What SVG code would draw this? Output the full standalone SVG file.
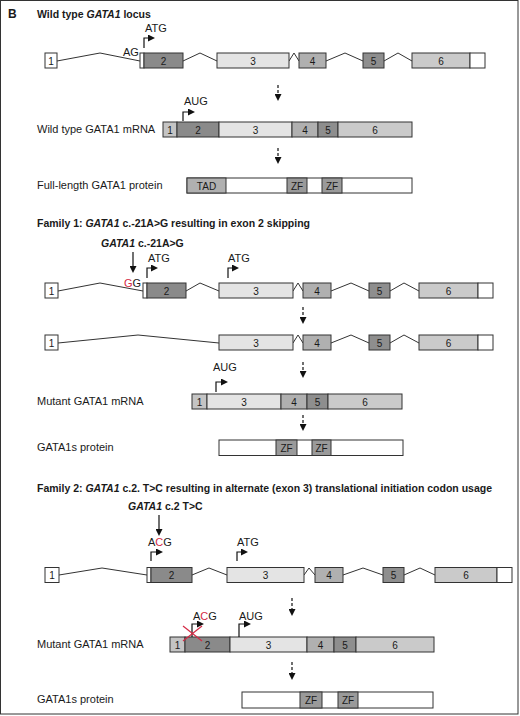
<svg xmlns="http://www.w3.org/2000/svg" width="520" height="716" viewBox="0 0 520 716">
<style>
text { font-family: "Liberation Sans", Arial, sans-serif; font-size: 11px; fill: #1a1a1a; }
.b { font-weight: bold; font-size: 10.5px; }
.i { font-style: italic; }
.n { font-size: 10px; text-anchor: middle; }
.ex rect { stroke: #333; stroke-width: 1; }
.w { fill: #fff; }
.c1 { fill: #c4c4c4; }
.c2 { fill: #8a8a8a; }
.c3 { fill: #e4e4e4; }
.c4 { fill: #b0b0b0; }
.c5 { fill: #8e8e8e; }
.c6 { fill: #cacaca; }
.zf { fill: #9a9a9a; }
.in { fill: none; stroke: #333; stroke-width: 1; }
.bent { fill: none; stroke: #111; stroke-width: 1.2; marker-end: url(#ah); }
.dash { fill: none; stroke: #111; stroke-width: 1.2; stroke-dasharray: 3 2; marker-end: url(#ah); }
.mut { fill: none; stroke: #111; stroke-width: 1.2; marker-end: url(#ah); }
.red { fill: #d42a45; }
.x { stroke: #d42a45; stroke-width: 1.2; }
</style>
<defs>
<marker id="ah" markerUnits="userSpaceOnUse" markerWidth="7" markerHeight="7" viewBox="0 0 7 7" refX="5" refY="3.5" orient="auto">
<path d="M0,0 L7,3.5 L0,7 z" fill="#111"/>
</marker>
</defs>
<rect x="0.5" y="0.5" width="517.5" height="713.5" fill="#fff" stroke="#333" stroke-width="1"/>

<g id="headers">
<text x="8" y="18" class="b" style="font-size:12px">B</text>
<text x="37" y="18" class="b">Wild type <tspan class="i">GATA1</tspan> locus</text>
<text x="37" y="227" class="b">Family 1: <tspan class="i">GATA1</tspan> c.-21A&gt;G resulting in exon 2 skipping</text>
<text x="37" y="492" class="b">Family 2: <tspan class="i">GATA1</tspan> c.2. T&gt;C resulting in alternate (exon 3) translational initiation codon usage</text>
</g>

<!-- Wild type locus -->
<g id="wt-locus" class="ex">
<polyline class="in" points="57,61 100,53 140,61"/>
<polyline class="in" points="183,61 200,53 217,61"/>
<polyline class="in" points="289,61 294,53 299,61"/>
<polyline class="in" points="326,61 345,53 363,61"/>
<polyline class="in" points="384,61 398,53 412,61"/>
<rect class="w" x="45" y="53" width="12" height="15"/>
<rect class="w" x="140" y="53" width="4" height="15"/>
<rect class="c2" x="144" y="53" width="39" height="15"/>
<rect class="c3" x="217" y="53" width="72" height="15"/>
<rect class="c4" x="299" y="53" width="27" height="15"/>
<rect class="c5" x="363" y="53" width="21" height="15"/>
<rect class="c6" x="412" y="53" width="58" height="15"/>
<rect class="w" x="470" y="53" width="15" height="15"/>
<text class="n" x="51" y="64.5">1</text>
<text class="n" x="163.5" y="64.5">2</text>
<text class="n" x="253" y="64.5">3</text>
<text class="n" x="312.5" y="64.5">4</text>
<text class="n" x="373.5" y="64.5">5</text>
<text class="n" x="441" y="64.5">6</text>
<text x="123" y="56">AG</text>
<text x="145" y="32">ATG</text>
</g>

<!-- Wild type mRNA -->
<g id="wt-mrna" class="ex">
<text x="37" y="133">Wild type GATA1 mRNA</text>
<rect class="c1" x="163" y="122" width="14" height="15"/>
<rect class="c2" x="177" y="122" width="42" height="15"/>
<rect class="c3" x="219" y="122" width="73" height="15"/>
<rect class="c4" x="292" y="122" width="26" height="15"/>
<rect class="c5" x="318" y="122" width="20" height="15"/>
<rect class="c6" x="338" y="122" width="74" height="15"/>
<text class="n" x="170" y="133.5">1</text>
<text class="n" x="198" y="133.5">2</text>
<text class="n" x="255.5" y="133.5">3</text>
<text class="n" x="305" y="133.5">4</text>
<text class="n" x="328" y="133.5">5</text>
<text class="n" x="375" y="133.5">6</text>
<text x="184" y="105">AUG</text>
</g>

<!-- Wild type protein -->
<g id="wt-protein" class="ex">
<text x="37" y="189">Full-length GATA1 protein</text>
<rect class="w" x="187" y="178" width="225" height="15"/>
<rect class="c4" x="187" y="178" width="39" height="15"/>
<rect class="zf" x="287" y="178" width="20" height="15"/>
<rect class="zf" x="322" y="178" width="20" height="15"/>
<text class="n" x="206.5" y="189.5">TAD</text>
<text class="n" x="297" y="189.5">ZF</text>
<text class="n" x="332" y="189.5">ZF</text>
</g>

<!-- Family 1 locus -->
<g id="f1-locus" class="ex">
<polyline class="in" points="58,291 100,283 143,291"/>
<polyline class="in" points="186,291 200,283 219,291"/>
<polyline class="in" points="293,291 298,283 303,291"/>
<polyline class="in" points="331,291 351,283 369,291"/>
<polyline class="in" points="390,291 404,283 419,291"/>
<rect class="w" x="45" y="283" width="13" height="15"/>
<rect class="w" x="143" y="283" width="4" height="15"/>
<rect class="c2" x="147" y="283" width="39" height="15"/>
<rect class="c3" x="219" y="283" width="74" height="15"/>
<rect class="c4" x="303" y="283" width="28" height="15"/>
<rect class="c5" x="369" y="283" width="21" height="15"/>
<rect class="c6" x="419" y="283" width="59" height="15"/>
<rect class="w" x="478" y="283" width="15" height="15"/>
<text class="n" x="51.5" y="294.5">1</text>
<text class="n" x="166.5" y="294.5">2</text>
<text class="n" x="256" y="294.5">3</text>
<text class="n" x="317" y="294.5">4</text>
<text class="n" x="379.5" y="294.5">5</text>
<text class="n" x="448.5" y="294.5">6</text>
<text x="101" y="247" class="b"><tspan class="i">GATA1</tspan> c.-21A&gt;G</text>
<text x="124" y="287"><tspan class="red">G</tspan>G</text>
<text x="148" y="262">ATG</text>
<text x="228" y="262">ATG</text>
</g>

<g id="f1-spliced" class="ex">
<polyline class="in" points="58,343 138,335 219,343"/>
<polyline class="in" points="293,343 298,335 303,343"/>
<polyline class="in" points="331,343 351,335 369,343"/>
<polyline class="in" points="390,343 404,335 419,343"/>
<rect class="w" x="45" y="335" width="13" height="15"/>
<rect class="c3" x="219" y="335" width="74" height="15"/>
<rect class="c4" x="303" y="335" width="28" height="15"/>
<rect class="c5" x="369" y="335" width="21" height="15"/>
<rect class="c6" x="419" y="335" width="59" height="15"/>
<rect class="w" x="478" y="335" width="15" height="15"/>
<text class="n" x="51.5" y="346.5">1</text>
<text class="n" x="256" y="346.5">3</text>
<text class="n" x="317" y="346.5">4</text>
<text class="n" x="379.5" y="346.5">5</text>
<text class="n" x="448.5" y="346.5">6</text>
</g>

<g id="f1-mrna" class="ex">
<text x="37" y="405">Mutant GATA1 mRNA</text>
<rect class="c1" x="192" y="394" width="15" height="15"/>
<rect class="c3" x="207" y="394" width="74" height="15"/>
<rect class="c4" x="281" y="394" width="26" height="15"/>
<rect class="c5" x="307" y="394" width="21" height="15"/>
<rect class="c6" x="328" y="394" width="74" height="15"/>
<text class="n" x="199.5" y="405.5">1</text>
<text class="n" x="244" y="405.5">3</text>
<text class="n" x="294" y="405.5">4</text>
<text class="n" x="317.5" y="405.5">5</text>
<text class="n" x="365" y="405.5">6</text>
<text x="213" y="371">AUG</text>
</g>

<g id="f1-protein" class="ex">
<text x="37" y="451">GATA1s protein</text>
<rect class="w" x="219" y="440" width="184" height="15.5"/>
<rect class="zf" x="276" y="440" width="21" height="15.5"/>
<rect class="zf" x="312" y="440" width="19" height="15.5"/>
<text class="n" x="286.5" y="451.5">ZF</text>
<text class="n" x="321.5" y="451.5">ZF</text>
</g>

<!-- Family 2 -->
<g id="f2-locus" class="ex">
<polyline class="in" points="59,575 102,568 147,575"/>
<polyline class="in" points="192,575 209,568 227,575"/>
<polyline class="in" points="304,575 309,568 315,575"/>
<polyline class="in" points="343,575 363,568 383,575"/>
<polyline class="in" points="404,575 420,568 435,575"/>
<rect class="w" x="45" y="567.5" width="14" height="15"/>
<rect class="w" x="147" y="567.5" width="4" height="15"/>
<rect class="c2" x="151" y="567.5" width="41" height="15"/>
<rect class="c3" x="227" y="567.5" width="77" height="15"/>
<rect class="c4" x="315" y="567.5" width="28" height="15"/>
<rect class="c5" x="383" y="567.5" width="21" height="15"/>
<rect class="c6" x="435" y="567.5" width="62" height="15"/>
<rect class="w" x="497" y="567.5" width="15" height="15"/>
<text class="n" x="52" y="579">1</text>
<text class="n" x="171.5" y="579">2</text>
<text class="n" x="265.5" y="579">3</text>
<text class="n" x="329" y="579">4</text>
<text class="n" x="393.5" y="579">5</text>
<text class="n" x="466" y="579">6</text>
<text x="128" y="510" class="b"><tspan class="i">GATA1</tspan> c.2 T&gt;C</text>
<text x="148" y="546">A<tspan class="red">C</tspan>G</text>
<text x="237" y="546">ATG</text>
</g>

<g id="f2-mrna" class="ex">
<text x="37" y="648">Mutant GATA1 mRNA</text>
<rect class="c1" x="170" y="637" width="15" height="15"/>
<rect class="c2" x="185" y="637" width="45" height="15"/>
<rect class="c3" x="230" y="637" width="77" height="15"/>
<rect class="c4" x="307" y="637" width="27" height="15"/>
<rect class="c5" x="334" y="637" width="22" height="15"/>
<rect class="c6" x="356" y="637" width="78" height="15"/>
<text class="n" x="177.5" y="648.5">1</text>
<text class="n" x="207.5" y="648.5">2</text>
<text class="n" x="268.5" y="648.5">3</text>
<text class="n" x="320.5" y="648.5">4</text>
<text class="n" x="345" y="648.5">5</text>
<text class="n" x="395" y="648.5">6</text>
<text x="193" y="620">A<tspan class="red">C</tspan>G</text>
<text x="239" y="620">AUG</text>
</g>

<g id="f2-protein" class="ex">
<text x="37" y="703">GATA1s protein</text>
<rect class="w" x="242" y="692" width="191" height="16"/>
<rect class="zf" x="300" y="692" width="22" height="16"/>
<rect class="zf" x="338" y="692" width="20" height="16"/>
<text class="n" x="311" y="703.5">ZF</text>
<text class="n" x="348" y="703.5">ZF</text>
</g>

<g id="connectors">
<path class="bent" d="M144,48 V38 H153"/>
<path class="bent" d="M183,121 V112 H193"/>
<path class="dash" d="M278,85 V99"/>
<path class="dash" d="M278,148 V162"/>
<path class="mut" d="M133,252 V271"/>
<path class="bent" d="M147,278 V268 H156"/>
<path class="bent" d="M228,278 V268 H237"/>
<path class="dash" d="M303,307 V322"/>
<path class="dash" d="M303,362 V376"/>
<path class="bent" d="M216,392 V382 H226"/>
<path class="dash" d="M303,415 V429"/>
<path class="mut" d="M159,515 V534"/>
<path class="bent" d="M151,561 V552 H161"/>
<path class="bent" d="M237,561 V552 H246"/>
<path class="dash" d="M292,598 V614"/>
<path class="bent" d="M192,637 V624 H202"/>
<path class="bent" d="M239,637 V624 H249"/>
<line class="x" x1="183" y1="626" x2="202" y2="641"/>
<line class="x" x1="183" y1="641" x2="202" y2="626"/>
<path class="dash" d="M292,662 V678"/>
</g>
</svg>
